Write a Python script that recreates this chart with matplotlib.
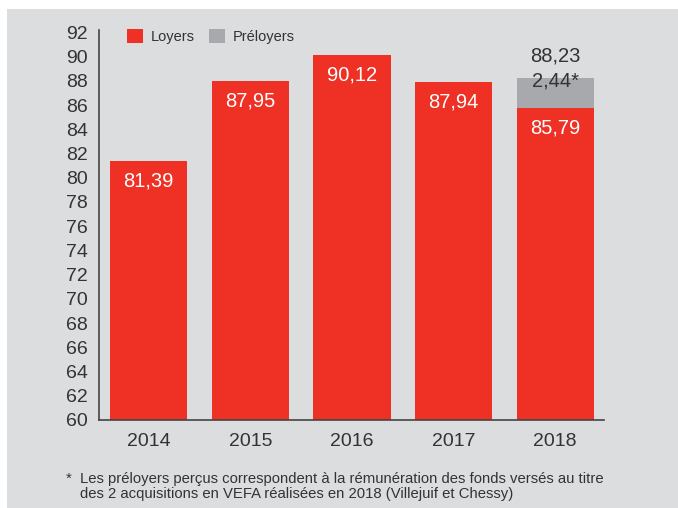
import matplotlib.pyplot as plt
from matplotlib.patches import Rectangle

plt.rcParams['font.family'] = ['Liberation Sans', 'DejaVu Sans']

years = ['2014', '2015', '2016', '2017', '2018']
loyers = [81.39, 87.95, 90.12, 87.94, 85.79]
preloyers = [0, 0, 0, 0, 2.44]
loyers_labels = ['81,39', '87,95', '90,12', '87,94', '85,79']
total_2018 = '88,23'
preloyers_label = '2,44*'
yticks = list(range(60, 93, 2))
footnote = ('Les préloyers perçus correspondent à la rémunération des fonds versés au titre\n'
            'des 2 acquisitions en VEFA réalisées en 2018 (Villejuif et Chessy)')

RED = '#ee3124'
GREY = '#a7a9ac'
BG = '#dcdddf'
TXT = '#333333'

fig = plt.figure(figsize=(6.78, 5.08), dpi=100, facecolor='white')
fig.patches.append(Rectangle((7 / 678, 0), 1, 1 - 9 / 508, transform=fig.transFigure,
                             facecolor=BG, edgecolor='none', zorder=-10))

ax = fig.add_axes([99 / 678, 1 - 420 / 508, 505 / 678, 390 / 508])
ax.set_facecolor('none')

x = list(range(len(years)))
ax.bar(x, [v - 60 for v in loyers], bottom=60, width=0.76, color=RED, label='Loyers')
ax.bar(x, preloyers, bottom=loyers, width=0.76, color=GREY, label='Préloyers')

for i, lab in enumerate(loyers_labels):
    ax.text(x[i], loyers[i] - 1.65, lab, color='white', ha='center', va='center', fontsize=14.5)
ax.text(x[4], loyers[4] + preloyers[4] + 1.85, total_2018, color=TXT, ha='center', va='center', fontsize=14.5)
ax.text(x[4], loyers[4] + preloyers[4] - 0.2, preloyers_label, color=TXT, ha='center', va='center', fontsize=14.5)

ax.set_ylim(60, 92.2)
ax.set_xlim(-0.49, 4.48)
ax.set_yticks(yticks)
ax.set_xticks(x)
ax.set_xticklabels(years)
ax.tick_params(axis='both', length=0, labelsize=14, colors=TXT)
ax.tick_params(axis='x', pad=9)
ax.tick_params(axis='y', pad=8)
for s in ['top', 'right']:
    ax.spines[s].set_visible(False)
for s in ['left', 'bottom']:
    ax.spines[s].set_color('#444444')
    ax.spines[s].set_linewidth(1.2)

ax.legend(loc='upper left', bbox_to_anchor=(0.03, 1.035), ncol=2, frameon=False,
          fontsize=10.5, handlelength=1.1, handleheight=1.1, columnspacing=1.0,
          handletextpad=0.5, labelcolor=TXT)

fig.text(66 / 678, 1 - 472 / 508, '*', ha='left', va='top', fontsize=10.7, color=TXT)
fig.text(80 / 678, 1 - 472 / 508, footnote, ha='left', va='top', fontsize=10.7,
         color=TXT, linespacing=1.1)

fig.savefig('out.png', dpi=100, facecolor='white')
